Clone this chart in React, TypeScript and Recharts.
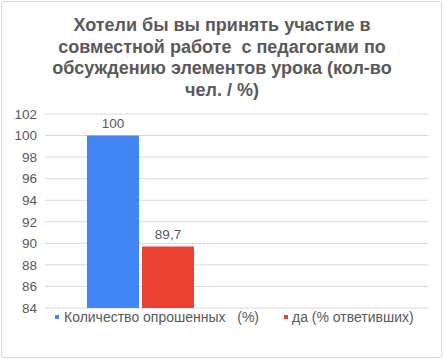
import React from "react";
import { BarChart, Bar, XAxis, YAxis, CartesianGrid, LabelList, Legend } from "recharts";

const categories = ["Ответ", ""];
const surveyed = [100, null];
const answeredYes = [89.7, null];
const yTicks = [84, 86, 88, 90, 92, 94, 96, 98, 100, 102];
const seriesNames = ["Количество опрошенных   (%)", "да (% ответивших)"];
const titleLines = [
  "Хотели бы вы принять участие в",
  "совместной работе  с педагогами по",
  "обсуждению элементов урока (кол-во",
  "чел. / %)",
];

const data = categories.map((c, i) => ({ name: c, a: surveyed[i], b: answeredYes[i] }));

const FONT = "'Liberation Sans', Arial, sans-serif";
const GRAY = "#595959";
const BLUE = "#4285f4";
const RED = "#ea4335";

const fmt = (v: any) => (v == null ? "" : String(v).replace(".", ","));

const LegendContent = () => (
  <div style={{ position: "relative", height: 20, fontFamily: FONT, fontSize: 14, color: GRAY }}>
    <div style={{ position: "absolute", left: 55, top: 0, whiteSpace: "pre", display: "flex", alignItems: "center" }}>
      <span style={{ display: "inline-block", width: 4, height: 4, background: BLUE, marginRight: 5 }} />
      {seriesNames[0]}
    </div>
    <div style={{ position: "absolute", left: 284, top: 0, whiteSpace: "pre", display: "flex", alignItems: "center" }}>
      <span style={{ display: "inline-block", width: 4, height: 4, background: RED, marginRight: 4 }} />
      {seriesNames[1]}
    </div>
  </div>
);

export default function App() {
  return (
    <div style={{ position: "absolute", left: 0, top: 0, width: 444, height: 360, background: "#fff" }}>
      <div
        style={{
          position: "absolute",
          left: 1,
          top: 1,
          width: 441,
          height: 357,
          border: "1px solid #d9d9d9",
          borderRadius: 3,
          boxSizing: "border-box",
        }}
      />
      <div
        style={{
          position: "absolute",
          left: 0,
          top: 15,
          width: 444,
          textAlign: "center",
          fontFamily: FONT,
          fontWeight: "bold",
          fontSize: 18,
          lineHeight: "21.5px",
          color: GRAY,
          whiteSpace: "pre",
        }}
      >
        {titleLines.map((l, i) => (
          <div key={i}>{l}</div>
        ))}
      </div>
      <div style={{ position: "absolute", left: 0, top: 0 }}>
        <BarChart
          width={444}
          height={360}
          data={data}
          margin={{ top: 114, right: 16, bottom: 32, left: 0 }}
          barGap={3}
        >
          <CartesianGrid vertical={false} stroke="#d9d9d9" />
          <XAxis dataKey="name" hide />
          <YAxis
            width={45}
            domain={[84, 102]}
            ticks={yTicks}
            axisLine={false}
            tickLine={false}
            interval={0}
            tick={{ fontSize: 13.5, fill: GRAY, fontFamily: FONT }}
          />
          <Legend content={<LegendContent />} wrapperStyle={{ left: 0, top: 309, width: 444 }} />
          <Bar dataKey="a" name={seriesNames[0]} fill={BLUE} barSize={52} isAnimationActive={false}>
            <LabelList dataKey="a" position="top" offset={8} formatter={fmt} style={{ fontSize: 13.5, fill: GRAY, fontFamily: FONT }} />
          </Bar>
          <Bar dataKey="b" name={seriesNames[1]} fill={RED} barSize={52} isAnimationActive={false}>
            <LabelList dataKey="b" position="top" offset={8} formatter={fmt} style={{ fontSize: 13.5, fill: GRAY, fontFamily: FONT }} />
          </Bar>
        </BarChart>
      </div>
    </div>
  );
}
